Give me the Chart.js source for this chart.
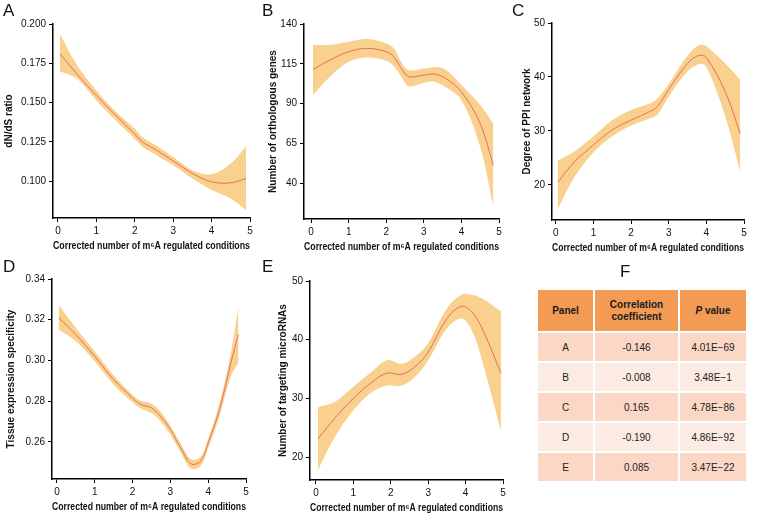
<!DOCTYPE html>
<html>
<head>
<meta charset="utf-8">
<script src="https://cdn.jsdelivr.net/npm/chart.js@4.4.1/dist/chart.umd.min.js"></script>
<style>
  body { margin: 0; background: #fff; font-family: 'Liberation Sans', Arial, sans-serif; }
  #wrap { position: relative; width: 760px; height: 524px; overflow: hidden; }
  canvas { position: absolute; }
  .lbl { position: absolute; font-size: 17px; color: #111; line-height: 1; }
  #tab { position: absolute; left: 536px; top: 288px; border-collapse: collapse; font-size: 10px; color: #222; }
  #tab td, #tab th { border: 2px solid #fff; text-align: center; padding: 0; }
  #tab th { background: #f39a55; font-weight: bold; height: 41px; line-height: 12px; color: #1a1a1a; }
  #tab td { height: 28px; }
</style>
</head>
<body>
<div id="wrap">
  <canvas id="cA" width="262" height="252" style="left:0;top:0"></canvas>
  <canvas id="cB" width="246" height="253" style="left:264px;top:0"></canvas>
  <canvas id="cC" width="242" height="254" style="left:518px;top:0"></canvas>
  <canvas id="cD" width="254" height="258" style="left:2px;top:255px"></canvas>
  <canvas id="cE" width="240" height="257" style="left:274px;top:257px"></canvas>
  <div class="lbl" style="left:3px;top:2px">A</div>
  <div class="lbl" style="left:262px;top:2px">B</div>
  <div class="lbl" style="left:512px;top:2px">C</div>
  <div class="lbl" style="left:3px;top:258px">D</div>
  <div class="lbl" style="left:262px;top:258px">E</div>
  <div class="lbl" style="left:620px;top:263px">F</div>
  <table id="tab"></table>
</div>
<script>
// ---- data ----
const xTicks = [0, 1, 2, 3, 4, 5];
const xTitle = 'Corrected number of m\u2076A regulated conditions';

const xA = [0.05, 0.5, 1, 1.5, 2, 2.2, 2.5, 3, 3.5, 4, 4.5, 4.9];
const midA = [0.181, 0.168, 0.1545, 0.142, 0.130, 0.125, 0.1207, 0.1129, 0.105, 0.0996, 0.0990, 0.1017];
const hiA = [0.1937, 0.1736, 0.1577, 0.1444, 0.1334, 0.128, 0.1235, 0.1154, 0.107, 0.1044, 0.1112, 0.1224];
const loA = [0.170, 0.1651, 0.1514, 0.1387, 0.127, 0.122, 0.1175, 0.1101, 0.1017, 0.0944, 0.089, 0.0816];
const yTicksA = [0.100, 0.125, 0.150, 0.175, 0.200];

const xB = [0.05, 0.5, 1, 1.5, 2, 2.2, 2.4, 2.6, 3, 3.3, 3.6, 4, 4.5, 4.85];
const midB = [111.4, 117.3, 122.6, 124.7, 122.6, 119.4, 112, 106.8, 107.9, 108.5, 105.5, 97.4, 77.4, 51.1];
const hiB = [126.8, 126.8, 128.9, 130.5, 127.8, 124.7, 116, 111, 112, 113, 111, 101.6, 89, 77.4];
const loB = [95.3, 106.8, 116.3, 119, 116.9, 113.5, 107, 100.8, 103, 103.6, 100, 92, 62.7, 24.9];
const yTicksB = [40, 65, 90, 115, 140];

const xC = [0.05, 0.5, 1, 1.5, 2, 2.5, 2.7, 3, 3.5, 3.8, 4, 4.5, 4.9];
const midC = [20.5, 24.3, 27.4, 30.2, 32.0, 33.6, 34.5, 37.7, 42.5, 44.0, 43.6, 37.3, 29.5];
const hiC = [24.5, 26.2, 29.0, 32.0, 33.9, 35.1, 36.0, 38.7, 44.0, 45.9, 45.7, 42.5, 39.5];
const loC = [15.5, 21.5, 26.0, 29.0, 31.0, 32.3, 33.0, 36.4, 41.0, 42.4, 41.9, 32.7, 22.5];
const yTicksC = [20, 30, 40, 50];

const xD = [0.05, 0.5, 1, 1.5, 2, 2.2, 2.5, 2.7, 3, 3.3, 3.55, 3.8, 4, 4.3, 4.6, 4.8];
const midD = [0.3209, 0.3127, 0.302, 0.2906, 0.2816, 0.2786, 0.2767, 0.2734, 0.2661, 0.2562, 0.2492, 0.2505, 0.2595, 0.2759, 0.2988, 0.3127];
const hiD = [0.3274, 0.316, 0.3045, 0.2926, 0.2832, 0.2803, 0.2788, 0.2757, 0.268, 0.2582, 0.2515, 0.2527, 0.2615, 0.2791, 0.3037, 0.3266];
const loD = [0.3151, 0.3094, 0.2996, 0.2881, 0.2795, 0.2767, 0.2742, 0.271, 0.2636, 0.254, 0.2468, 0.2482, 0.257, 0.2726, 0.2922, 0.2988];
const yTicksD = [0.26, 0.28, 0.30, 0.32, 0.34];

const xE = [0.05, 0.5, 1, 1.5, 1.9, 2.3, 2.7, 3, 3.5, 3.9, 4.2, 4.5, 4.95];
const midE = [23.1, 26.6, 30.0, 32.8, 34.3, 34.1, 35.7, 37.9, 43.6, 45.7, 44.5, 41.1, 34.2];
const hiE = [28.5, 29.4, 32.0, 34.6, 36.5, 35.9, 37.4, 39.4, 45.3, 47.7, 47.6, 46.8, 44.8];
const loE = [17.8, 23.4, 28.0, 31.1, 32.2, 32.2, 34.0, 36.5, 41.9, 43.6, 41.1, 35.1, 24.3];
const yTicksE = [20, 30, 40, 50];

// table F
const tabPanels = ['A', 'B', 'C', 'D', 'E'];
const tabCorr = ['-0.146', '-0.008', '0.165', '-0.190', '0.085'];
const tabP = ['4.01E\u221269', '3.48E\u22121', '4.78E\u221286', '4.86E\u221292', '3.47E\u221222'];

// ---- drawing ----
Chart.defaults.font.family = "'Liberation Sans', Arial, sans-serif";
Chart.defaults.color = '#111';

const BAND = '#f9d08e';
const LINE = '#e5705c';

function pts(xs, ys) { return xs.map((x, i) => ({ x, y: ys[i] })); }

function panel(id, xs, mid, lo, hi, cfg) {
  const ctx = document.getElementById(id);
  const axisLine = { display: true, color: '#000', width: 1.5 };
  const gridCfg = { drawOnChartArea: false, drawTicks: true, tickLength: 4, tickColor: '#000', tickWidth: 1 };
  // chart.js draws the last dataset first, so the line goes first to land on top of the band
  return new Chart(ctx, {
    type: 'line',
    data: {
      datasets: [
        { data: pts(xs, mid), borderColor: LINE, borderWidth: 1, pointRadius: 0, fill: false, tension: 0.35 },
        { data: pts(xs, hi), borderWidth: 0, pointRadius: 0, fill: false, tension: 0.35 },
        { data: pts(xs, lo), borderWidth: 0, pointRadius: 0, fill: '-1', backgroundColor: BAND, tension: 0.35 }
      ]
    },
    options: {
      responsive: false,
      animation: false,
      devicePixelRatio: 1,
      layout: { padding: { top: cfg.padTop, right: cfg.padRight, left: 0, bottom: 0 } },
      plugins: { legend: { display: false }, tooltip: { enabled: false } },
      scales: {
        x: {
          type: 'linear',
          min: cfg.xMin, max: 5,
          afterBuildTicks: s => { s.ticks = xTicks.map(v => ({ value: v })); },
          afterFit: s => { s.height = cfg.xH; },
          ticks: { font: { size: 10 }, padding: 3, maxRotation: 0, color: '#111' },
          grid: gridCfg,
          border: axisLine,
          title: { display: true, text: xTitle, font: { size: 10, weight: 'bold' }, color: '#111', padding: 0 }
        },
        y: {
          min: cfg.yMin, max: cfg.yMax,
          afterBuildTicks: s => { s.ticks = cfg.yTicks.map(v => ({ value: v })); },
          afterFit: s => { s.width = cfg.yW; },
          ticks: { font: { size: 10 }, padding: 3, color: '#111', callback: v => v.toFixed(cfg.dec) },
          grid: gridCfg,
          border: axisLine,
          title: { display: true, text: cfg.yTitle, font: { size: 10, weight: 'bold' }, color: '#111', padding: { top: 3, bottom: 0 } }
        }
      }
    }
  });
}

panel('cA', xA, midA, loA, hiA, { xMin: -0.13, yMin: 0.0766, yMax: 0.2, yTicks: yTicksA, dec: 3, yTitle: 'dN/dS ratio', padTop: 24, padRight: 12, yW: 53, xH: 34 });
panel('cB', xB, midB, loB, hiB, { xMin: -0.19, yMin: 17.4, yMax: 140, yTicks: yTicksB, dec: 0, yTitle: 'Number of orthologous genes', padTop: 24, padRight: 11, yW: 40, xH: 34 });
panel('cC', xC, midC, loC, hiC, { xMin: -0.1, yMin: 13.5, yMax: 50, yTicks: yTicksC, dec: 0, yTitle: 'Degree of PPI network', padTop: 23, padRight: 16, yW: 34, xH: 34 });
panel('cD', xD, midD, loD, hiD, { xMin: -0.13, yMin: 0.2418, yMax: 0.34, yTicks: yTicksD, dec: 2, yTitle: 'Tissue expression specificity', padTop: 24, padRight: 10, yW: 50, xH: 34 });
panel('cE', xE, midE, loE, hiE, { xMin: -0.16, yMin: 16.1, yMax: 50, yTicks: yTicksE, dec: 0, yTitle: 'Number of targeting microRNAs', padTop: 24, padRight: 11, yW: 36, xH: 34 });

// table
const tab = document.getElementById('tab');
let html = '<tr><th style="width:55px">Panel</th><th style="width:83px">Correlation<br>coefficient</th><th style="width:66px"><i>P</i> value</th></tr>';
tabPanels.forEach((p, i) => {
  const bg = i % 2 === 0 ? '#fbd8c6' : '#fcebe3';
  html += `<tr style="background:${bg}"><td>${p}</td><td>${tabCorr[i]}</td><td>${tabP[i]}</td></tr>`;
});
tab.innerHTML = html;
</script>
</body>
</html>
